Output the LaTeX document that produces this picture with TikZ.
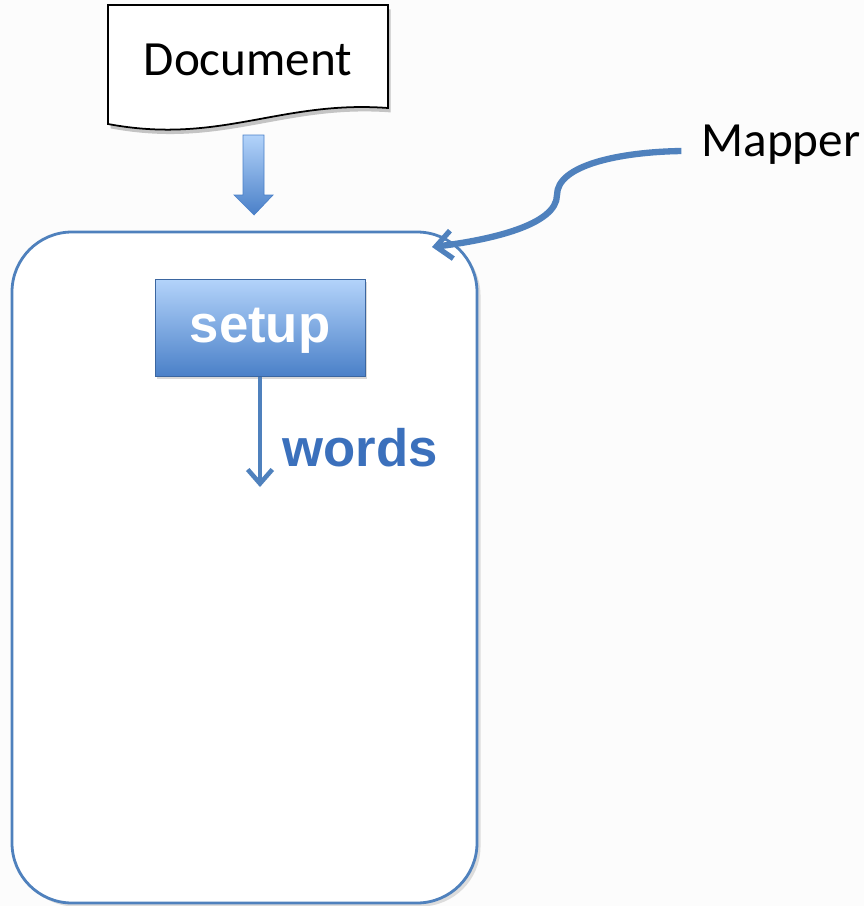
\documentclass[tikz,border=0pt]{standalone}
\usepackage{fontspec}
\setmainfont{Carlito}
\newfontfamily\boldsans{Liberation Sans}
\usetikzlibrary{shadows,calc,arrows.meta}
\definecolor{linkblue}{HTML}{4F81BD}
\definecolor{setuptop}{HTML}{B3D3FA}
\definecolor{setupmid}{HTML}{6C9EE0}
\definecolor{setupbot}{HTML}{4A80C8}
\definecolor{wordblue}{HTML}{3B70BC}

\begin{document}
\begin{tikzpicture}[x=0.02cm,y=0.02cm,
  big/.style={font=\fontsize{28}{30}\selectfont},
  setupbox/.style={draw=setupbot!80!black,line width=0.4pt,top color=setuptop,
    middle color=setupmid,bottom color=setupbot,minimum width=4.2cm,
    minimum height=1.94cm,inner sep=0pt,text=white,text height=16pt,text depth=0pt,
    font=\boldsans\bfseries\fontsize{30}{32}\selectfont,
    drop shadow={opacity=0.3,shadow xshift=1pt,shadow yshift=-1.5pt}}]
\useasboundingbox[fill=gray!2] (0,0) rectangle (864,-906);
% mapper box
\draw[linkblue,line width=1.6pt,fill=white,rounded corners=1.2cm,
      drop shadow={opacity=0.25,shadow xshift=2pt,shadow yshift=-2pt}]
      (12,-232) rectangle (477,-903);
% document
\draw[fill=white,line width=1pt,
      drop shadow={opacity=0.45,shadow xshift=1.5pt,shadow yshift=-2.5pt}]
      (108,-5) -- (388,-5) -- (388,-108)
      .. controls (280,-100) and (220,-145) .. (108,-124) -- cycle;
\node[big] (doc) at (248,-60) {Document};
% block arrow
\shade[top color=setuptop,bottom color=setupbot,draw=setupbot,line width=0.4pt]
      (243,-135) -- (264,-135) -- (264,-195) -- (273,-195) -- (254,-215)
      -- (234,-195) -- (243,-195) -- cycle;
% setup and words
\node[setupbox] (setup) at (260,-328) {setup};
\coordinate (wordsend) at (260,-487);
\draw[-{Straight Barb[length=8pt,width=14pt,line width=2.6pt]},linkblue,line width=2.8pt]
      (setup.south) -- (wordsend);
\node[text=wordblue,font=\boldsans\bfseries\fontsize{30}{32}\selectfont]
      (words) at (360,-448) {words};
% mapper
\node[big] (mapper) at (781,-145) {Mapper};
\coordinate (maptip) at (432,-247);
\draw[-{Straight Barb[length=9pt,width=16pt,line width=3pt]},linkblue,line width=3.6pt]
      ($(mapper.west)+(-14,-6)$) .. controls (620,-152) and (557,-165) .. (557,-195)
      .. controls (557,-225) and (490,-240) .. (maptip);
\end{tikzpicture}
\end{document}
